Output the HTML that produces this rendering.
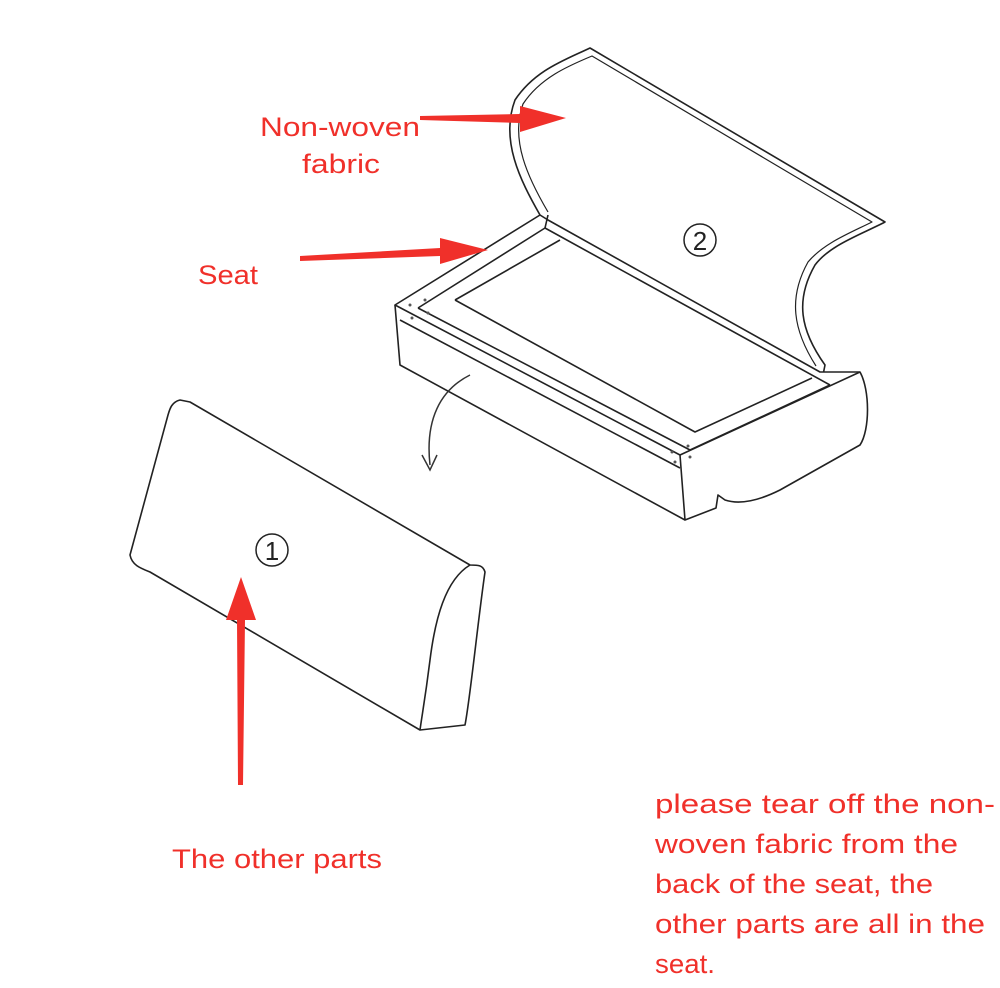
<!DOCTYPE html>
<html><head><meta charset="utf-8"><style>
html,body{margin:0;padding:0;background:#fff;width:1000px;height:988px;overflow:hidden}
svg{position:absolute;left:0;top:0}
.t{font-family:"Liberation Sans","DejaVu Sans",sans-serif;fill:#f0302a;font-size:27px}
</style></head><body>
<svg width="1000" height="988" viewBox="0 0 1000 988">
<g fill="none" stroke="#222" stroke-width="1.6" stroke-linejoin="round">
<path d="M540 215 C520 180 500 140 515 100 C535 70 565 60 590 48 L885 222 C860 235 830 245 815 265 C795 300 800 330 825 365 L820 390" fill="#fff"/>
<path d="M548 212 C528 178 510 140 523 104 C540 78 568 66 592 56 L872 222 C850 233 824 243 808 262 C788 298 793 330 816 366" stroke-width="1.2"/>
<path d="M395 305 L540 215 L548 220 L820 372 L860 372 C870 390 870 430 860 445 L780 490 C760 500 740 505 725 500 L718 495 L716 508 L685 520 L680 455 L395 305 Z" fill="#fff"/>
<path d="M395 305 L400 365 L685 520"/>
<path d="M680 455 L860 372"/>
<path d="M418 308 L545 228 L830 385"/>
<path d="M545 228 L548 215"/>
<path d="M418 308 L690 450 L830 385"/>
<path d="M455 300 L560 240"/>
<path d="M455 300 L695 432 L812 378"/>
<path d="M400 320 L680 468"/>
</g>
<g fill="#555">
<circle cx="410" cy="305" r="1.5"/><circle cx="425" cy="300" r="1.5"/><circle cx="412" cy="318" r="1.5"/><circle cx="428" cy="313" r="1.5"/>
<circle cx="672" cy="452" r="1.5"/><circle cx="688" cy="446" r="1.5"/><circle cx="675" cy="462" r="1.5"/><circle cx="690" cy="457" r="1.5"/>
</g>
<g fill="#fff" stroke="#222" stroke-width="1.6" stroke-linejoin="round">
<path d="M180 400 C172 402 170 408 168 415 L130 555 C132 565 140 568 150 572 L420 730 L465 725 C470 700 478 620 485 572 C483 565 478 565 470 565 L190 402 Z"/>
<path d="M470 565 C445 580 435 620 430 660 C425 700 422 715 420 730"/>
</g>
<path d="M470 375 C440 390 425 420 430 465" fill="none" stroke="#333" stroke-width="1.5"/>
<path d="M422 455 L430 470 L437 455" fill="none" stroke="#333" stroke-width="1.5"/>
<g fill="#fff" stroke="#222" stroke-width="1.5"><circle cx="272" cy="550" r="16"/><circle cx="700" cy="240" r="16"/></g>
<text x="272" y="560" text-anchor="middle" font-family="Liberation Sans,sans-serif" font-size="26" fill="#222">1</text>
<text x="700" y="250" text-anchor="middle" font-family="Liberation Sans,sans-serif" font-size="26" fill="#222">2</text>
<g fill="#f0302a" stroke="none">
<polygon points="420,116 520,114 520,106 566,118 520,132 520,123 420,120"/>
<polygon points="300,256 440,248 440,238 488,250 440,264 440,256 300,261"/>
<polygon points="238,785 237,620 226,620 241,577 256,620 245,620 243,785"/>
</g>
<text class="t" x="260" y="136" textLength="160" lengthAdjust="spacingAndGlyphs">Non-woven</text>
<text class="t" x="302" y="173" textLength="78" lengthAdjust="spacingAndGlyphs">fabric</text>
<text class="t" x="198" y="284" textLength="60" lengthAdjust="spacingAndGlyphs">Seat</text>
<text class="t" x="172" y="868" textLength="210" lengthAdjust="spacingAndGlyphs">The other parts</text>
<text class="t" x="655" y="813" textLength="340" lengthAdjust="spacingAndGlyphs">please tear off the non-</text>
<text class="t" x="655" y="853" textLength="303" lengthAdjust="spacingAndGlyphs">woven fabric from the</text>
<text class="t" x="655" y="893" textLength="278" lengthAdjust="spacingAndGlyphs">back of the seat, the</text>
<text class="t" x="655" y="933" textLength="330" lengthAdjust="spacingAndGlyphs">other parts are all in the</text>
<text class="t" x="655" y="973" textLength="60" lengthAdjust="spacingAndGlyphs">seat.</text>
</svg>
</body></html>
